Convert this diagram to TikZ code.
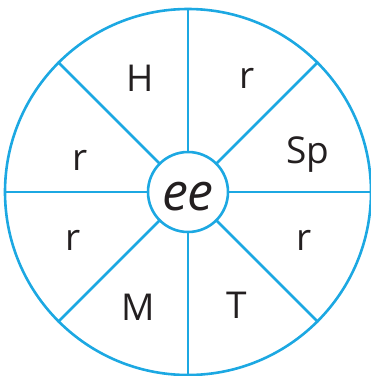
\documentclass[tikz,border=0pt]{standalone}
\usepackage{fontspec}
\setmainfont{Open Sans}
\definecolor{wheelblue}{RGB}{28,168,226}
\definecolor{ink}{RGB}{35,31,32}
\tikzset{
  rim/.style={draw=wheelblue, line width=2.6pt, circle, inner sep=0pt, minimum size=366pt},
  hub/.style={draw=wheelblue, line width=2.6pt, circle, inner sep=0pt, minimum size=80pt, fill=white},
  spoke/.style={draw=wheelblue, line width=2.6pt},
  onset/.style={text=ink, anchor=base, font=\fontsize{37}{40}\selectfont},
  rime/.style={text=ink, anchor=base, font=\itshape\fontsize{52}{56}\selectfont},
}
\begin{document}
\begin{tikzpicture}[x=1pt, y=-1pt]
    \useasboundingbox (0,0) rectangle (371,376);

    \node[rim] (wheel) at (188,192) {};
    \foreach \a in {0,45,...,315}
      \draw[spoke] (wheel.center) -- (wheel.\a);
    \node[hub] (hub) at (188,192) {};
    \node[rime] (ee) at (188,210) {ee};

    % letters round the wheel
    \node[onset] (h) at (140,91) {H};
    \node[onset] (r1) at (247,88) {r};
    \node[onset] (sp) at (308,163) {Sp};
    \node[onset] (r2) at (304,250) {r};
    \node[onset] (t) at (237,318) {T};
    \node[onset] (m) at (138,320) {M};
    \node[onset] (r3) at (73,250) {r};
    \node[onset] (r4) at (80,170) {r};
  \end{tikzpicture}
\end{document}
